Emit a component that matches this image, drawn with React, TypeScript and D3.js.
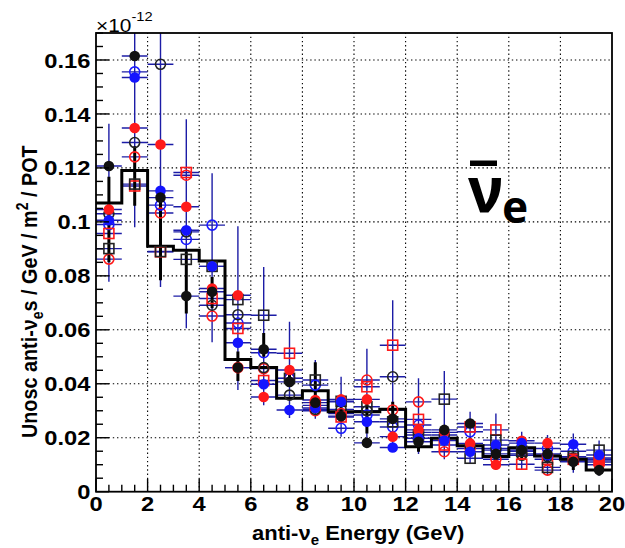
import React from 'react';
import * as d3 from 'd3';

// ---------- data ----------
const binCenters = [0.5, 1.5, 2.5, 3.5, 4.5, 5.5, 6.5, 7.5, 8.5, 9.5, 10.5, 11.5, 12.5, 13.5, 14.5, 15.5, 16.5, 17.5, 18.5, 19.5];
const binEdges = [0, 1, 2, 3, 4, 5, 6, 7, 8, 9, 10, 11, 12, 13, 14, 15, 16, 17, 18, 19, 20];
const histValues = [0.107, 0.119, 0.091, 0.0895, 0.0855, 0.049, 0.046, 0.0346, 0.0374, 0.0296, 0.0296, 0.0306, 0.0167, 0.0198, 0.017, 0.013, 0.0163, 0.0132, 0.012, 0.008];

const blackFilled = [0.1207, 0.1615, 0.109, 0.0725, 0.0741, 0.046, 0.0528, 0.0407, 0.033, 0.028, 0.0181, 0.027, 0.0185, 0.0229, 0.0253, 0.014, 0.0154, 0.014, 0.0111, 0.008];
const redFilled = [0.1046, 0.1348, 0.1287, 0.1056, 0.0753, 0.0728, 0.0351, 0.0451, 0.034, 0.0342, 0.0342, 0.0204, 0.0229, 0.022, 0.0179, 0.010, 0.0189, 0.018, 0.0117, 0.011];
const blueFilled = [0.1006, 0.1535, 0.1115, 0.0969, 0.0835, 0.0552, 0.0398, 0.0303, 0.031, 0.0333, 0.0259, 0.0164, 0.0198, 0.019, 0.0148, 0.0173, 0.018, 0.0135, 0.0176, 0.0136];
const blackOpen = [0.103, 0.1294, 0.1584, 0.0963, 0.0691, 0.0656, 0.046, 0.0358, 0.0305, 0.0305, 0.030, 0.0426, 0.022, 0.021, 0.017, 0.016, 0.0135, 0.013, 0.0125, 0.0125];
const redOpen = [0.0862, 0.1241, 0.1033, 0.1173, 0.0651, 0.046, 0.0456, 0.042, 0.030, 0.029, 0.0414, 0.0303, 0.0333, 0.0148, 0.016, 0.012, 0.014, 0.008, 0.012, 0.010];
const blueOpen = [0.099, 0.1556, 0.1062, 0.0935, 0.0988, 0.0625, 0.0515, 0.042, 0.0395, 0.0235, 0.0284, 0.024, 0.0247, 0.020, 0.0222, 0.0154, 0.016, 0.016, 0.015, 0.012];
const blackSquare = [0.0901, 0.114, 0.089, 0.0861, 0.0835, 0.0712, 0.0654, 0.042, 0.0414, 0.0335, 0.0315, 0.0259, 0.021, 0.0343, 0.0124, 0.0191, 0.015, 0.009, 0.013, 0.0154];
const redSquare = [0.0957, 0.1133, 0.0889, 0.1183, 0.0716, 0.0605, 0.0412, 0.0513, 0.032, 0.0277, 0.0389, 0.0543, 0.0268, 0.0173, 0.024, 0.0229, 0.0102, 0.012, 0.012, 0.0117];

const blueErrLow = [0.0778, 0.098, 0.0759, 0.0606, 0.0554, 0.0377, 0.032, 0.0273, 0.027, 0.0204, 0.0167, 0.0154, 0.014, 0.012, 0.0105, 0.008, 0.008, 0.006, 0.007, 0.006];
const blueErrHigh = [0.1364, 0.2, 0.2, 0.138, 0.118, 0.0984, 0.0833, 0.063, 0.0488, 0.0426, 0.053, 0.071, 0.042, 0.0447, 0.0296, 0.029, 0.0222, 0.021, 0.0216, 0.019];
const blackErrLow = [0.085, 0.106, 0.0784, 0.066, 0.068, 0.041, 0.05, 0.0389, 0.030, 0.026, 0.0216, 0.0253, 0.0148, 0.0198, 0.014, 0.011, 0.012, 0.011, 0.008, 0.006];
const blackErrHigh = [0.1167, 0.128, 0.109, 0.089, 0.0796, 0.052, 0.0588, 0.045, 0.048, 0.034, 0.0352, 0.0333, 0.0229, 0.0246, 0.02, 0.017, 0.018, 0.017, 0.014, 0.011];

const xTickValues = [0, 2, 4, 6, 8, 10, 12, 14, 16, 18, 20];
const xTickLabels = ['0', '2', '4', '6', '8', '10', '12', '14', '16', '18', '20'];
const yTickValues = [0, 0.02, 0.04, 0.06, 0.08, 0.1, 0.12, 0.14, 0.16];
const yTickLabels = ['0', '0.02', '0.04', '0.06', '0.08', '0.1', '0.12', '0.14', '0.16'];

// ---------- layout ----------
const W = 625, H = 548;
const L = 96, R = 612, T = 33, B = 491.7;
const SX = 1.13; // horizontal stretch of glyphs

const x = d3.scaleLinear().domain([0, 20]).range([L, R]);
const y = d3.scaleLinear().domain([0, 0.17]).range([B, T]);

const ERR_BLUE = '#1c1ca6';

type SeriesDef = { name: string; values: number[]; color: string; shape: 'fc' | 'oc' | 'os' };
const series: SeriesDef[] = [
  { name: 'redOpen', values: redOpen, color: '#ff1a1a', shape: 'oc' },
  { name: 'blueOpen', values: blueOpen, color: '#1a1aff', shape: 'oc' },
  { name: 'blackOpen', values: blackOpen, color: '#222', shape: 'oc' },
  { name: 'redSquare', values: redSquare, color: '#ff1a1a', shape: 'os' },
  { name: 'blackSquare', values: blackSquare, color: '#222', shape: 'os' },
  { name: 'redFilled', values: redFilled, color: '#ff1a1a', shape: 'fc' },
  { name: 'blueFilled', values: blueFilled, color: '#1414ff', shape: 'fc' },
  { name: 'blackFilled', values: blackFilled, color: '#111', shape: 'fc' },
];

function Marker({ cx, cy, color, shape }: { cx: number; cy: number; color: string; shape: string }) {
  if (shape === 'fc') return <circle cx={cx} cy={cy} r={5.3} fill={color} />;
  if (shape === 'oc') return <circle cx={cx} cy={cy} r={5} fill="none" stroke={color} strokeWidth={1.6} />;
  return <rect x={cx - 5} y={cy - 5} width={10} height={10} fill="none" stroke={color} strokeWidth={1.6} />;
}

export default function App() {
  const histPts: [number, number][] = [];
  histValues.forEach((v, i) => {
    histPts.push([x(binEdges[i]), y(v)]);
    histPts.push([x(binEdges[i + 1]), y(v)]);
  });
  const histPath = d3.line()(histPts) || '';

  const xMinor = d3.range(0, 20.001, 0.5);
  const yMinor = d3.range(0, 0.1701, 0.005);
  const font = '"Liberation Sans", Arial, Helvetica, sans-serif';

  return (
    <svg width={W} height={H} style={{ position: 'absolute', left: 0, top: 0, background: '#fff' }} fontFamily={font}>
      <defs>
        <clipPath id="plotClip">
          <rect x={L} y={T} width={R - L} height={B - T} />
        </clipPath>
      </defs>
      <rect x={0} y={0} width={W} height={H} fill="#fff" />

      {/* grid */}
      <g stroke="#000" strokeWidth={1.1} strokeDasharray="1.4,2.8">
        {xTickValues.filter(v => v > 0 && v < 20).map(v => (
          <line key={'gx' + v} x1={x(v)} x2={x(v)} y1={B} y2={T} />
        ))}
        {yTickValues.filter(v => v > 0).map(v => (
          <line key={'gy' + v} x1={L} x2={R} y1={y(v)} y2={y(v)} />
        ))}
      </g>

      <g clipPath="url(#plotClip)">
        {/* horizontal error bars */}
        <g stroke={ERR_BLUE} strokeWidth={1.4}>
          {series.map(s => s.values.map((v, i) => (
            <line key={s.name + 'h' + i} x1={x(binCenters[i] - 0.5)} x2={x(binCenters[i] + 0.5)} y1={y(v)} y2={y(v)} />
          )))}
        </g>
        {/* long blue vertical error bars */}
        <g stroke={ERR_BLUE} strokeWidth={1.4}>
          {binCenters.map((c, i) => (
            <line key={'bv' + i} x1={x(c)} x2={x(c)} y1={y(blueErrLow[i])} y2={y(blueErrHigh[i])} />
          ))}
        </g>
        {/* black thick error bars */}
        <g stroke="#000" strokeWidth={3}>
          {binCenters.map((c, i) => (
            <line key={'kv' + i} x1={x(c)} x2={x(c)} y1={y(blackErrLow[i])} y2={y(blackErrHigh[i])} />
          ))}
        </g>
        {/* histogram */}
        <path d={histPath} fill="none" stroke="#000" strokeWidth={3} />
        {/* markers */}
        {series.map(s => (
          <g key={s.name}>
            {s.values.map((v, i) => (
              <Marker key={i} cx={x(binCenters[i])} cy={y(v)} color={s.color} shape={s.shape} />
            ))}
          </g>
        ))}
      </g>

      {/* frame */}
      <rect x={L} y={T} width={R - L} height={B - T} fill="none" stroke="#000" strokeWidth={1.8} />

      {/* ticks */}
      <g stroke="#000" strokeWidth={1.4}>
        {yMinor.map((v, i) => {
          const major = i % 4 === 0;
          return <line key={'yt' + i} x1={L} x2={L + (major ? 13 : 7)} y1={y(v)} y2={y(v)} />;
        })}
        {xMinor.map((v, i) => {
          const major = i % 4 === 0;
          return <line key={'xt' + i} x1={x(v)} x2={x(v)} y1={B} y2={B - (major ? 13 : 7)} />;
        })}
      </g>

      {/* tick labels */}
      <g fontSize={21} fontWeight="bold" fill="#000">
        {yTickValues.map((v, i) => (
          <text key={'yl' + i} transform={`translate(${L - 5.5},${y(v)}) scale(${SX},1)`} dy="0.36em" textAnchor="end">{yTickLabels[i]}</text>
        ))}
        {xTickValues.map((v, i) => (
          <text key={'xl' + i} transform={`translate(${x(v)},511) scale(${SX},1)`} textAnchor="middle">{xTickLabels[i]}</text>
        ))}
      </g>

      {/* exponent */}
      <text transform={`translate(${L},31.5) scale(${SX},1)`} fontSize={18.5} fill="#000">×10<tspan dy={-10.5} fontSize={13}>-12</tspan></text>

      {/* axis titles */}
      <text transform={`translate(252,539.5) scale(${SX * 0.95},1)`} textAnchor="start" fontSize={20.5} fontWeight="bold">
        anti-ν<tspan dy={5} fontSize={14}>e</tspan><tspan dy={-5}> Energy (GeV)</tspan>
      </text>
      <text transform={`translate(37, 438) scale(${SX},1) rotate(-90)`} textAnchor="start" fontSize={19.8} fontWeight="bold">
        Unosc anti-ν<tspan dy={5} fontSize={14}>e</tspan><tspan dy={-5}>s / GeV / m</tspan><tspan dy={-8} fontSize={14}>2</tspan><tspan dy={8}> / POT</tspan>
      </text>

      {/* nu-e-bar label */}
      <rect x={470} y={160.5} width={27} height={5.5} fill="#000" />
      <text x={468} y={212} fontSize={62} fontWeight="bold" fontFamily='"Noto Sans", "Open Sans", sans-serif'>ν</text>
      <text x={502} y={223} fontSize={44} fontWeight="bold" fontFamily='"Noto Sans", "Open Sans", sans-serif'>e</text>
    </svg>
  );
}
